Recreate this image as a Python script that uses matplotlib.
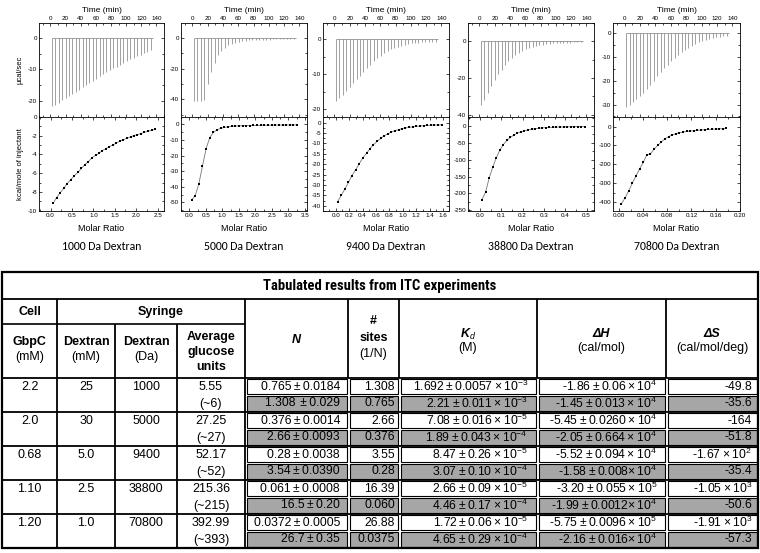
import matplotlib
matplotlib.use("Agg")
import matplotlib.pyplot as plt
from matplotlib.patches import Rectangle
from matplotlib.ticker import MultipleLocator, AutoMinorLocator, FormatStrFormatter

plt.rcParams["font.family"] = ["Liberation Sans", "DejaVu Sans"]
plt.rcParams["axes.unicode_minus"] = False
plt.rcParams["mathtext.fontset"] = "custom"
plt.rcParams["mathtext.rm"] = "Liberation Sans"
plt.rcParams["mathtext.it"] = "Liberation Sans:italic"
plt.rcParams["mathtext.bf"] = "Liberation Sans:bold"
plt.rcParams["mathtext.bfit"] = "Liberation Sans:italic:bold"

# ---------------------------------------------------
# Datos de los termogramas
# ---------------------------------------------------
tiempo_inyeccion = [2.0, 6.5, 11.0, 15.5, 20.0, 24.5, 29.0, 33.5, 38.0, 42.5,
                    47.0, 51.5, 56.0, 60.5, 65.0, 69.5, 74.0, 78.5, 83.0, 87.5,
                    92.0, 96.5, 101.0, 105.5, 110.0, 114.5, 119.0, 123.5, 128.0, 132.5]

etiquetas = ["1000 Da Dextran", "5000 Da Dextran", "9400 Da Dextran",
             "38800 Da Dextran", "70800 Da Dextran"]

picos_1000 = [-21.5, -21.3, -20.6, -19.9, -19.2, -18.5, -17.8, -17.1, -16.4, -15.7,
              -15.0, -14.3, -13.6, -12.9, -12.2, -11.5, -10.9, -10.3, -9.7, -9.1,
              -8.5, -7.9, -7.3, -6.8, -6.3, -5.8, -5.3, -4.8, -4.3, -3.8]
picos_5000 = [-41, -41, -41, -40.5, -30, -22.5, -16.5, -11.5, -8.5, -6.5,
              -5, -4, -3.3, -2.7, -2.3, -2, -1.8, -1.6, -1.5, -1.4,
              -1.3, -1.2, -1.2, -1.1, -1.1, -1, -1, -1, -0.9, -0.9]
picos_9400 = [-17.5, -16.8, -15.8, -14.8, -13.7, -12.6, -11.5, -10.4, -9.4, -8.3,
              -7.3, -6.4, -5.5, -4.8, -4.1, -3.5, -3.0, -2.6, -2.2, -1.9,
              -1.7, -1.5, -1.3, -1.2, -1.1, -1.0, -0.9, -0.9, -0.8, -0.8]
picos_38800 = [-35, -32, -28, -24.5, -21, -18, -15.5, -13, -11, -9.2,
               -7.7, -6.4, -5.3, -4.4, -3.6, -3.0, -2.5, -2.1, -1.8, -1.5,
               -1.3, -1.1, -1.0, -0.9, -0.8, -0.7, -0.7, -0.6, -0.6, -0.5]
picos_70800 = [-31, -30, -29, -27.8, -26.5, -25, -23.5, -21.8, -20, -18.2,
               -16.5, -14.8, -13.2, -11.7, -10.4, -9.2, -8.1, -7.2, -6.4, -5.6,
               -4.6, -3.9, -3.3, -2.8, -2.4, -2.0, -1.7, -1.5, -1.3, -1.1]

ratio_1000 = [0.06, 0.14, 0.22, 0.31, 0.39, 0.47, 0.55, 0.64, 0.72, 0.80,
              0.88, 0.96, 1.05, 1.13, 1.21, 1.29, 1.37, 1.46, 1.54, 1.62,
              1.70, 1.78, 1.87, 1.95, 2.03, 2.11, 2.19, 2.28, 2.36, 2.44]
calor_1000 = [-9.2, -8.6, -8.1, -7.6, -7.1, -6.7, -6.3, -5.9, -5.5, -5.1,
              -4.8, -4.4, -4.1, -3.9, -3.6, -3.4, -3.2, -3.0, -2.8, -2.6,
              -2.45, -2.3, -2.15, -2.0, -1.9, -1.8, -1.65, -1.55, -1.45, -1.35]
ratio_5000 = [0.07, 0.18, 0.29, 0.40, 0.51, 0.62, 0.73, 0.84, 0.95, 1.06,
              1.17, 1.28, 1.39, 1.50, 1.61, 1.72, 1.83, 1.94, 2.05, 2.16,
              2.27, 2.38, 2.49, 2.60, 2.71, 2.82, 2.93, 3.04, 3.14, 3.25]
calor_5000 = [-48.5, -45.7, -38, -26.7, -15.5, -8.5, -5.2, -3.5, -2.6, -2.0,
              -1.6, -1.3, -1.1, -1.0, -0.9, -0.8, -0.8, -0.7, -0.7, -0.6,
              -0.6, -0.6, -0.5, -0.5, -0.5, -0.5, -0.5, -0.4, -0.4, -0.4]
ratio_9400 = [0.03, 0.08, 0.14, 0.19, 0.24, 0.30, 0.35, 0.40, 0.46, 0.51,
              0.56, 0.62, 0.67, 0.72, 0.78, 0.83, 0.88, 0.94, 0.99, 1.04,
              1.10, 1.15, 1.20, 1.26, 1.31, 1.36, 1.42, 1.47, 1.52, 1.58]
calor_9400 = [-38, -35, -31.8, -28.7, -25.6, -22.6, -19.8, -17.2, -14.8, -12.6,
              -10.7, -9.0, -7.6, -6.4, -5.4, -4.6, -3.9, -3.4, -2.9, -2.6,
              -2.3, -2.0, -1.8, -1.7, -1.5, -1.4, -1.3, -1.2, -1.2, -1.1]
ratio_38800 = [0.010, 0.027, 0.043, 0.060, 0.076, 0.093, 0.110, 0.126, 0.143, 0.159,
               0.176, 0.193, 0.209, 0.226, 0.242, 0.259, 0.276, 0.292, 0.309, 0.325,
               0.342, 0.358, 0.375, 0.392, 0.408, 0.425, 0.441, 0.458, 0.475, 0.491]
calor_38800 = [-218, -195, -155, -122, -95, -72, -55, -43, -34, -27,
               -21, -17, -14, -11.5, -9.5, -8, -6.8, -5.8, -5, -4.4,
               -3.9, -3.5, -3.2, -2.9, -2.7, -2.5, -2.3, -2.2, -2.1, -2.0]
ratio_70800 = [0.004, 0.010, 0.016, 0.022, 0.028, 0.034, 0.040, 0.046, 0.052, 0.058,
               0.064, 0.070, 0.076, 0.082, 0.088, 0.094, 0.100, 0.106, 0.112, 0.118,
               0.124, 0.130, 0.136, 0.142, 0.148, 0.154, 0.160, 0.166, 0.172, 0.178]
calor_70800 = [-408, -378, -340, -300, -262, -225, -190, -150, -145, -120,
               -100, -82, -66, -54, -45, -38, -33, -29, -26, -24,
               -22, -20, -18.5, -17, -15.5, -14, -13, -12, -11, -10]

picos = [picos_1000, picos_5000, picos_9400, picos_38800, picos_70800]
ratios = [ratio_1000, ratio_5000, ratio_9400, ratio_38800, ratio_70800]
calores = [calor_1000, calor_5000, calor_9400, calor_38800, calor_70800]

# ---------------------------------------------------
# Datos de la tabla
# ---------------------------------------------------
celda_mM = ["2.2", "2.0", "0.68", "1.10", "1.20"]
dextran_mM = ["25", "30", "5.0", "2.5", "1.0"]
dextran_da = ["1000", "5000", "9400", "38800", "70800"]
glucosa = ["5.55", "27.25", "52.17", "215.36", "392.99"]
glucosa_aprox = ["(~6)", "(~27)", "(~52)", "(~215)", "(~393)"]

col_N = ["0.765 ± 0.0184", "1.308  ± 0.029", "0.376 ± 0.0014", "2.66 ± 0.0093",
         "0.28 ± 0.0038", "3.54 ± 0.0390", "0.061 ± 0.0008", "16.5 ± 0.20",
         "0.0372 ± 0.0005", "26.7 ± 0.35"]
col_sitios = ["1.308", "0.765", "2.66", "0.376", "3.55", "0.28", "16.39", "0.060",
              "26.88", "0.0375"]
col_Kd = ["1.692 ± 0.0057 × 10$^{-3}$", "2.21 ± 0.011 × 10$^{-3}$",
          "7.08 ± 0.016 × 10$^{-5}$", "1.89 ± 0.043 × 10$^{-4}$",
          "8.47 ± 0.26 × 10$^{-5}$", "3.07 ± 0.10 × 10$^{-4}$",
          "2.66 ± 0.09 × 10$^{-5}$", "4.46 ± 0.17 × 10$^{-4}$",
          "1.72 ± 0.06 × 10$^{-5}$", "4.65 ± 0.29 × 10$^{-4}$"]
col_dH = ["-1.86 ± 0.06 × 10$^{4}$", "-1.45 ± 0.013 × 10$^{4}$",
          "-5.45 ± 0.0260 × 10$^{4}$", "-2.05 ± 0.664 × 10$^{4}$",
          "-5.52 ± 0.094 × 10$^{4}$", "-1.58 ± 0.008× 10$^{4}$",
          "-3.20 ± 0.055 × 10$^{5}$", "-1.99 ± 0.0012× 10$^{4}$",
          "-5.75 ± 0.0096 × 10$^{5}$", "-2.16 ± 0.016× 10$^{4}$"]
col_dS = ["-49.8", "-35.6", "-164", "-51.8", "-1.67 × 10$^{2}$", "-35.4",
          "-1.05 × 10$^{3}$", "-50.6", "-1.91 × 10$^{3}$", "-57.3"]

# ---------------------------------------------------
# Layout (pixeles de la imagen 760x553)
# ---------------------------------------------------
W, H = 760, 553
paneles_x = [(39, 164), (181, 307), (323, 449), (468, 594), (613, 740)]
lim_y_arriba = [(-25, 4.8), (-51, 9.5), (-22, 4.5), (-41, 10), (-35, 4.2)]
paso_y_arriba = [10, 20, 10, 20, 10]
lim_x_abajo = [(-0.27, 2.65), (-0.25, 3.56), (-0.19, 1.69), (-0.056, 0.535), (-0.01, 0.2005)]
paso_x_abajo = [0.5, 0.5, 0.2, 0.1, 0.04]
formato_x = ["%.1f", "%.1f", "%.1f", "%.1f", "%.2f"]
lim_y_abajo = [(-10.02, 0.02), (-55.5, 5), (-42.5, 2.9), (-252, 28), (-447, 53)]
paso_y_abajo = [2, 10, 5, 50, 100]
GRIS = "#a6a6a6"
ANGOSTA = ["Carlito", "Lato", "Liberation Sans", "DejaVu Sans"]
TITULO = ["Roboto Condensed", "Liberation Sans Narrow", "Roboto", "Liberation Sans"]
TS = "\u2009"


def caja(x0, y0, x1, y1):
    return [x0 / W, 1 - y1 / H, (x1 - x0) / W, (y1 - y0) / H]


def estilo(ax):
    ax.tick_params(which="both", direction="in", top=True, right=True,
                   labelsize=4.5, pad=1.5, width=0.5)
    ax.tick_params(which="major", length=2.2)
    ax.tick_params(which="minor", length=1.2)
    for s in ax.spines.values():
        s.set_linewidth(0.6)


def dibujar_panel(fig, i):
    x0, x1 = paneles_x[i]

    # termograma crudo
    ax_t = fig.add_axes(caja(x0, 23, x1, 116.5))
    ax_t.vlines(tiempo_inyeccion, picos[i], 0, color="#909090", lw=0.6)
    ax_t.hlines(0, tiempo_inyeccion[0], tiempo_inyeccion[-1] + 3, color="#909090", lw=0.6)
    ax_t.set_xlim(-15, 150)
    ax_t.set_ylim(*lim_y_arriba[i])
    ax_t.xaxis.set_major_locator(MultipleLocator(20))
    ax_t.xaxis.set_minor_locator(AutoMinorLocator(2))
    ax_t.yaxis.set_major_locator(MultipleLocator(paso_y_arriba[i]))
    ax_t.yaxis.set_minor_locator(AutoMinorLocator(2))
    estilo(ax_t)
    ax_t.tick_params(labelbottom=False, labeltop=True)
    ax_t.xaxis.set_label_position("top")
    ax_t.set_xlabel("Time (min)", fontsize=6, labelpad=3)

    # calores integrados
    ax_b = fig.add_axes(caja(x0, 116.5, x1, 211))
    ax_b.plot(ratios[i], calores[i], "-", color="#777777", lw=0.6)
    ax_b.plot(ratios[i], calores[i], "s", color="black", ms=1.8, mew=0)
    ax_b.set_xlim(*lim_x_abajo[i])
    ax_b.set_ylim(*lim_y_abajo[i])
    ax_b.xaxis.set_major_locator(MultipleLocator(paso_x_abajo[i]))
    ax_b.xaxis.set_major_formatter(FormatStrFormatter(formato_x[i]))
    ax_b.xaxis.set_minor_locator(AutoMinorLocator(2))
    ax_b.yaxis.set_major_locator(MultipleLocator(paso_y_abajo[i]))
    ax_b.yaxis.set_minor_locator(AutoMinorLocator(2))
    estilo(ax_b)
    ax_b.set_xlabel("Molar Ratio", fontsize=6.5, labelpad=4)

    if i == 0:
        ax_t.set_ylabel("µcal/sec", fontsize=5.5, labelpad=3)
        ax_b.set_ylabel("kcal/mole of injectant", fontsize=5.5, labelpad=3)

    fig.text((x0 + x1) / 2 / W, 1 - 247 / H, etiquetas[i], family=ANGOSTA,
             fontsize=8.5, ha="center", va="center")


def linea(ax, xs, ys, lw=1.0):
    ax.plot(xs, ys, color="black", lw=lw, solid_capstyle="butt")


def dibujar_tabla(fig):
    ax = fig.add_axes([0, 0, 1, 1])
    ax.set_xlim(0, W)
    ax.set_ylim(H, 0)
    ax.axis("off")

    cx = [2, 57, 115, 177, 245, 348, 399, 537, 666, 758]
    top, y_tit, y_h1, y_h2 = 272, 299, 324, 378
    paso = 17
    bottom = y_h2 + 10 * paso

    # celdas de resultados (fila par blanca, impar gris)
    for r in range(10):
        y0 = y_h2 + r * paso
        for c in range(4, 9):
            ax.add_patch(Rectangle((cx[c] + 1.5, y0 + 1), cx[c + 1] - cx[c] - 3, paso - 2,
                                   facecolor=GRIS if r % 2 else "white",
                                   edgecolor="black", lw=0.8))

    ax.add_patch(Rectangle((cx[0], top), cx[-1] - cx[0], bottom - top,
                           facecolor="none", edgecolor="black", lw=1.6))
    linea(ax, [cx[0], cx[-1]], [y_tit, y_tit], 1.3)
    linea(ax, [cx[0], cx[4]], [y_h1, y_h1], 1.2)
    linea(ax, [cx[0], cx[-1]], [y_h2, y_h2], 1.3)
    for g in range(1, 5):
        linea(ax, [cx[0], cx[-1]], [y_h2 + 2 * g * paso] * 2, 1.3)
    linea(ax, [cx[1]] * 2, [y_tit, bottom], 1.3)
    for c in (2, 3):
        linea(ax, [cx[c]] * 2, [y_h1, bottom], 1.3)
    linea(ax, [cx[4]] * 2, [y_tit, bottom], 1.3)
    for c in range(5, 9):
        linea(ax, [cx[c]] * 2, [y_tit, y_h2], 1.3)

    # titulo y encabezados
    ax.text(380, 286, "Tabulated results from ITC experiments", family=TITULO,
            fontweight="bold", fontsize=10.5, ha="center", va="center")
    negrita = dict(fontweight="bold", fontsize=9, ha="center", va="center")
    normal = dict(fontsize=9, ha="center", va="center")
    ax.text(29.5, 312, "Cell", **negrita)
    ax.text(161, 312, "Syringe", **negrita)
    ax.text(29.5, 342, "GbpC", **negrita)
    ax.text(29.5, 357, "(mM)", **normal)
    ax.text(86, 342, "Dextran", **negrita)
    ax.text(86, 357, "(mM)", **normal)
    ax.text(146, 342, "Dextran", **negrita)
    ax.text(146, 357, "(Da)", **normal)
    ax.text(211, 337, "Average", **negrita)
    ax.text(211, 352, "glucose", **negrita)
    ax.text(211, 367, "units", **negrita)
    ax.text(296.5, 340, "N", fontstyle="italic", **negrita)
    ax.text(373.5, 321, "#", **negrita)
    ax.text(373.5, 338, "sites", **negrita)
    ax.text(373.5, 354, "(1/N)", **normal)
    ax.text(468, 334, r"$\mathbfit{K}_{\mathit{d}}$", **normal)
    ax.text(468, 348, "(M)", **normal)
    ax.text(601.5, 334, "ΔH", fontstyle="italic", **negrita)
    ax.text(601.5, 348, "(cal/mol)", **normal)
    ax.text(712, 334, "ΔS", fontstyle="italic", **negrita)
    ax.text(712, 348, "(cal/mol/deg)", **normal)

    # valores
    for g in range(5):
        y1 = y_h2 + (2 * g + 0.5) * paso
        y2 = y1 + paso
        for c, val in enumerate([celda_mM[g], dextran_mM[g], dextran_da[g], glucosa[g]]):
            ax.text((cx[c] + cx[c + 1]) / 2, y1, val, **normal)
        ax.text((cx[3] + cx[4]) / 2, y2, glucosa_aprox[g], **normal)

    margen = [8, 4, 9, 9, 6]
    columnas = [col_N, col_sitios, col_Kd, col_dH, col_dS]
    for k, col in enumerate(columnas):
        c = k + 4
        for r in range(10):
            texto = col[r].replace(" ", TS)
            ax.text(cx[c + 1] - margen[k], y_h2 + (r + 0.5) * paso, texto,
                    fontsize=8.7, ha="right", va="center",
                    family=["Liberation Sans", "DejaVu Sans"])


def main():
    fig = plt.figure(figsize=(W / 100, H / 100), dpi=100)
    for i in range(5):
        dibujar_panel(fig, i)
    dibujar_tabla(fig)
    fig.savefig("out.png", dpi=100)


if __name__ == "__main__":
    main()
